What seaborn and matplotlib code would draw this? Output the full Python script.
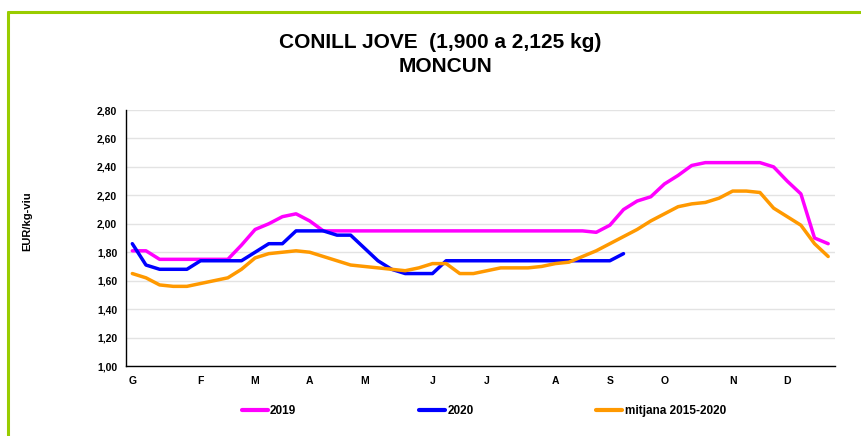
import numpy as np
import pandas as pd
import seaborn as sns
import matplotlib.pyplot as plt
from matplotlib.lines import Line2D

# preus setmanals (EUR/kg viu), setmanes 1..52
preu_2019 = [1.81, 1.81, 1.75, 1.75, 1.75, 1.75, 1.75, 1.75, 1.85, 1.96,
             2.00, 2.05, 2.07, 2.02, 1.95, 1.95, 1.95, 1.95, 1.95, 1.95,
             1.95, 1.95, 1.95, 1.95, 1.95, 1.95, 1.95, 1.95, 1.95, 1.95,
             1.95, 1.95, 1.95, 1.95, 1.94, 1.99, 2.10, 2.16, 2.19, 2.28,
             2.34, 2.41, 2.43, 2.43, 2.43, 2.43, 2.43, 2.40, 2.30, 2.21,
             1.90, 1.86]
preu_2020 = [1.86, 1.71, 1.68, 1.68, 1.68, 1.74, 1.74, 1.74, 1.74, 1.80,
             1.86, 1.86, 1.95, 1.95, 1.95, 1.92, 1.92, 1.83, 1.74, 1.68,
             1.65, 1.65, 1.65, 1.74, 1.74, 1.74, 1.74, 1.74, 1.74, 1.74,
             1.74, 1.74, 1.74, 1.74, 1.74, 1.74, 1.79]
mitjana = [1.65, 1.62, 1.57, 1.56, 1.56, 1.58, 1.60, 1.62, 1.68, 1.76,
           1.79, 1.80, 1.81, 1.80, 1.77, 1.74, 1.71, 1.70, 1.69, 1.68,
           1.67, 1.69, 1.72, 1.72, 1.65, 1.65, 1.67, 1.69, 1.69, 1.69,
           1.70, 1.72, 1.73, 1.77, 1.81, 1.86, 1.91, 1.96, 2.02, 2.07,
           2.12, 2.14, 2.15, 2.18, 2.23, 2.23, 2.22, 2.11, 2.05, 1.99,
           1.86, 1.77]

mesos = ["G", "F", "M", "A", "M", "J", "J", "A", "S", "O", "N", "D"]
setmana_mes = [0, 5, 9, 13, 17, 22, 26, 31, 35, 39, 44, 48]

series = {"2019": preu_2019, "2020": preu_2020, "mitjana 2015-2020": mitjana}
colors = {"2019": "#FF00FF", "2020": "#0000FF", "mitjana 2015-2020": "#FF9900"}

df = pd.concat([pd.DataFrame({"setmana": range(len(v)), "preu": v, "serie": k})
                for k, v in series.items()], ignore_index=True)

sns.set_style("white")
plt.rcParams['font.family'] = ['Liberation Sans Narrow', 'Liberation Sans', 'DejaVu Sans']
plt.rcParams.update({"text.color": "black", "xtick.color": "black",
                     "ytick.color": "black", "axes.labelcolor": "black"})

fig = plt.figure(figsize=(8.61, 4.36), dpi=100)
ax = fig.add_axes([125.5 / 861, 1 - 366 / 436, (835 - 125.5) / 861, (366 - 110) / 436])

sns.lineplot(data=df, x="setmana", y="preu", hue="serie", palette=colors,
             linewidth=2.5, ax=ax, legend=False, solid_joinstyle="round",
             solid_capstyle="round")

ax.set_xlim(-0.5, 51.5)
ax.set_ylim(1.0, 2.8)
yt = np.round(np.arange(1.0, 2.81, 0.2), 2)
ax.set_yticks(yt)
ax.set_yticklabels([f"{v:.2f}".replace(".", ",") for v in yt], fontsize=7.5, fontweight="bold")
ax.set_xticks(setmana_mes)
ax.set_xticklabels(mesos, fontsize=7.5, fontweight="bold")
ax.set_xticks(np.arange(-0.5, 52, 1), minor=True)
ax.tick_params(axis="x", which="major", length=0, pad=7)
ax.tick_params(axis="x", which="minor", length=3, width=0.6, color="#888888", direction="out")
ax.tick_params(axis="y", length=3, width=0.8, direction="out", pad=3)
ax.set_xlabel("")
ax.set_ylabel("")

ax.grid(axis="y", color="#E3E3E3", linewidth=1)
ax.set_axisbelow(True)
for s in ["top", "right"]:
    ax.spines[s].set_visible(False)
for s in ["left", "bottom"]:
    ax.spines[s].set_color("black")
    ax.spines[s].set_linewidth(1)

fig.text(440 / 861, 1 - 42 / 436, "CONILL JOVE  (1,900 a 2,125 kg)", ha="center", va="center",
         fontsize=15, fontweight="bold")
fig.text(446 / 861, 1 - 67 / 436, "MONCUN", ha="center", va="center",
         fontsize=15, fontweight="bold")
fig.text(27 / 861, 1 - 221 / 436, "EUR/kg-viu", rotation=90, ha="center", va="center",
         fontsize=8, fontweight="bold")

handles = [Line2D([], [], color=colors[k], linewidth=3) for k in series]
fig.legend(handles, list(series), loc="center left", bbox_to_anchor=(231 / 861, 1 - 411 / 436),
           ncol=3, frameon=False, handlelength=2.2, handletextpad=0.2, columnspacing=10.4,
           prop={"weight": "bold", "size": 8.5})

# marc verd
green = "#99CC00"
fig.add_artist(Line2D([8 / 861, 8 / 861], [0, 1 - 12 / 436], color=green, linewidth=2.2,
                      transform=fig.transFigure))
fig.add_artist(Line2D([8 / 861, 1], [1 - 12 / 436, 1 - 12 / 436], color=green, linewidth=2.2,
                      transform=fig.transFigure))

fig.savefig("out.png", dpi=100)
